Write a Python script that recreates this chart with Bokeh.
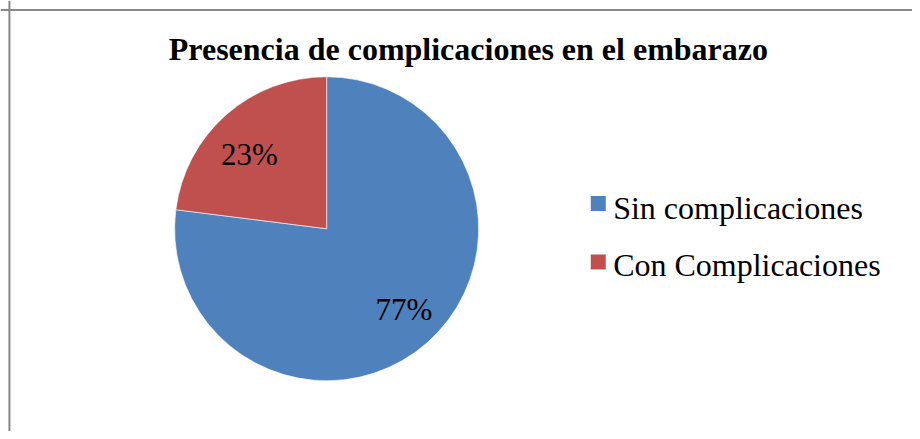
import numpy as np
from bokeh.plotting import figure
from bokeh.models import Range1d, Span, ColumnDataSource
from bokeh.core.properties import value
from bokeh.embed import file_html
from bokeh.resources import INLINE

# ---- data ----
categories = ["Sin complicaciones", "Con Complicaciones"]
percents = [77, 23]
labels = ["77%", "23%"]
colors = ["#4F81BD", "#C0504D"]
title_text = "Presencia de complicaciones en el embarazo"

W, H = 912, 431
FONT = "Liberation Serif"


def sx(x):
    return x * W / 920.0


def sy(y):
    return H - y * H / 439.0


p = figure(width=W, height=H, output_backend="svg", toolbar_location=None,
           x_range=Range1d(0, W), y_range=Range1d(0, H), min_border=0,
           x_axis_type=None, y_axis_type=None)
p.grid.visible = False
p.outline_line_color = None
p.background_fill_color = "white"
p.border_fill_color = "white"

# chart-area border (only top/left visible in the crop)
p.add_layout(Span(location=sx(9), dimension="height", line_color="#878787", line_width=2))
p.add_layout(Span(location=sy(9.8), dimension="width", line_color="#878787", line_width=2))

# pie, clockwise from 12 o'clock
cx, cy, R = sx(329), sy(232.5), 152
frac = np.array(percents, dtype=float) / sum(percents)
cum = np.concatenate([[0], np.cumsum(frac)])
start = np.pi / 2 - cum[:-1] * 2 * np.pi
end = np.pi / 2 - cum[1:] * 2 * np.pi
mid = (start + end) / 2 + np.deg2rad(3.5)
src = ColumnDataSource(dict(start=start, end=end, color=colors,
                            lx=cx + 0.72 * R * np.cos(mid),
                            ly=cy + 0.72 * R * np.sin(mid),
                            label=labels))
p.wedge(x=cx, y=cy, radius=R, radius_units="screen", start_angle="start",
        end_angle="end", direction="clock", fill_color="color",
        line_color="white", line_width=0.6, source=src)
p.text(x="lx", y="ly", text="label", source=src, text_font=value(FONT),
       text_font_size="31px", text_align="center", text_baseline="middle",
       text_color="black", y_offset=3)

# title
p.text(x=[sx(472)], y=[sy(58.3)], text=[title_text], text_font=value(FONT),
       text_font_style="bold", text_font_size="32px", text_align="center",
       text_baseline="alphabetic", text_color="black", y_offset=-9)

# legend
sq_y = [sy(206.8), sy(266.3)]
txt_y = [sy(216.7), sy(274.5)]
p.scatter(x=[sx(603)] * 2, y=sq_y, marker="square", size=15, fill_color=colors,
          line_color=None)
p.text(x=[sx(618)] * 2, y=txt_y, text=categories, text_font=value(FONT),
       text_font_size="32px", text_align="left", text_baseline="alphabetic",
       text_color="black", y_offset=-5)

open("out.html", "w").write(file_html(p, INLINE))
